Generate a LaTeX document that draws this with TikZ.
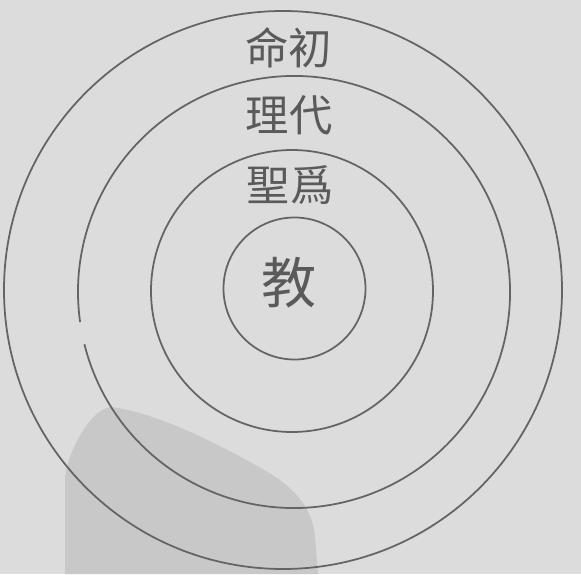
\documentclass[tikz,border=0pt]{standalone}
\usepackage{fontspec}
\newfontfamily\cjk{Noto Sans CJK TC}
\usetikzlibrary{positioning}

\definecolor{paper}{RGB}{220,220,220}
\definecolor{ink}{RGB}{100,100,100}
\definecolor{seal}{RGB}{200,200,200}

\begin{document}
\begin{tikzpicture}[
		x=0.03cm,y=0.03cm,
		ring/.style={draw=ink, line width=1.5pt},
		label/.style={text=ink!90!black, inner sep=0pt, font=\cjk\fontsize{37}{37}\selectfont}
		]
		
		% =========================
		% paper and faded seal
		% =========================
		\fill[paper] (0,0) rectangle (581,574);
		\useasboundingbox (0,0) rectangle (581,574);
		\fill[seal] (65,0) -- (65,93) .. controls (66,120) and (90,165) .. (111,167)
			.. controls (150,162) and (200,140) .. (259,107)
			.. controls (290,90) and (312,70) .. (315,37)
			-- (318,0) -- cycle;
		
		% =========================
		% rings
		% =========================
		\draw[ring] (283,284) circle (279);
		\draw[ring] (294,282) ++(194:216) arc (194:548:216);
		\draw[ring] (292,283) circle (141);
		\draw[ring] (294.5,285.5) circle (71);
		
		% =========================
		% texts
		% =========================
		\node[label] (first) at (288.5,526) {命初};
		\node[label] (second) at (289,459) {理代};
		\node[label] (third) at (290,389) {聖爲};
		\node[label, font=\cjk\fontsize{47}{47}\selectfont] (core) at (289,291) {教};
		
	\end{tikzpicture}
\end{document}
